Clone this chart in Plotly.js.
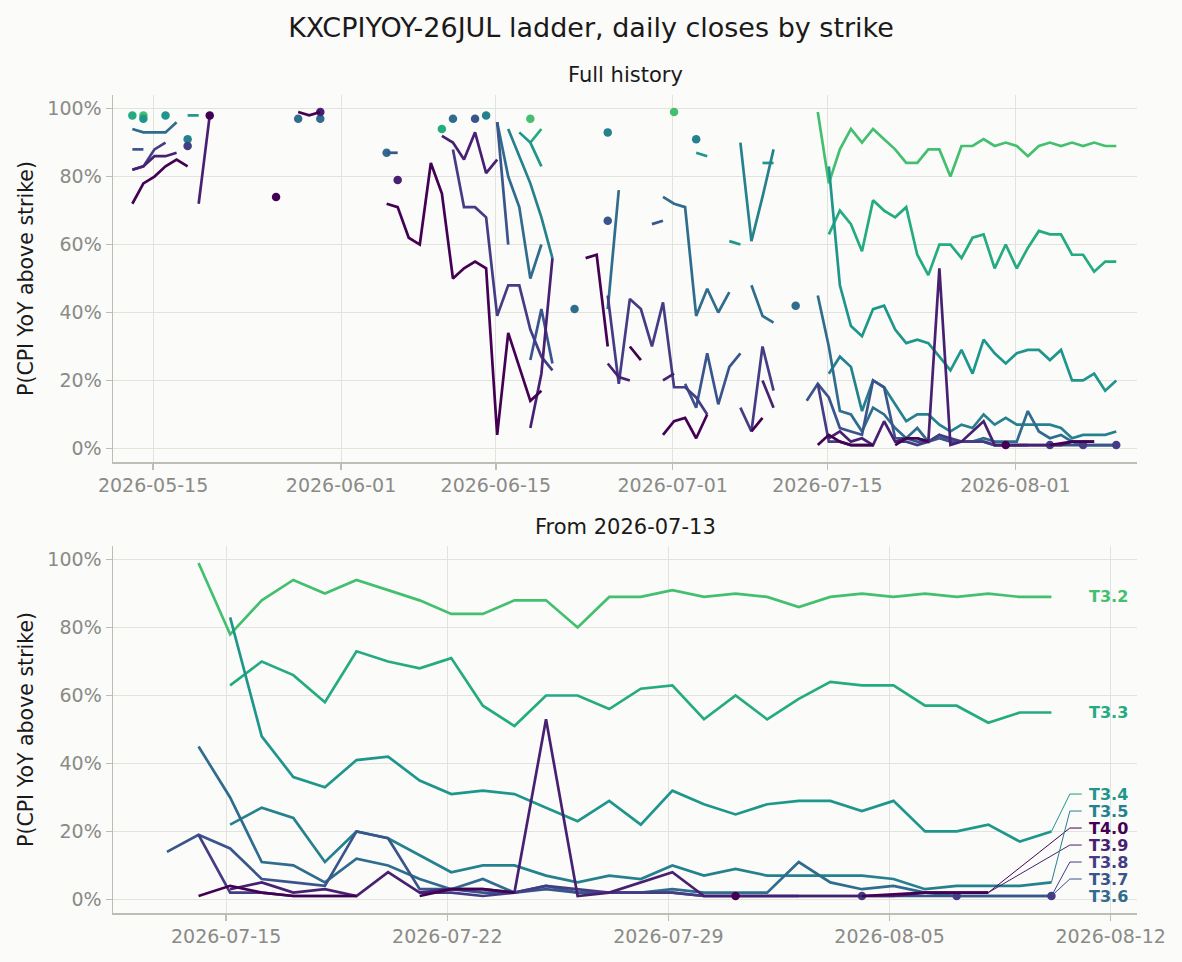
<html>
<head>
<script src="https://cdn.plot.ly/plotly-3.0.1.min.js"></script>
</head>
<body style="margin:0;background:#fbfbf9">
<div id="chart" style="width:1182px;height:962px"></div>
<script>
// daily closes per strike, 2026-05-13 .. 2026-08-10 (null = no close that day)
const _ = null;
const firstDay = [2026, 4, 13];
const nDays = 90;

const strikes = ['T3.2', 'T3.3', 'T3.4', 'T3.5', 'T3.6', 'T3.7', 'T3.8', 'T3.9', 'T4.0'];
const colors = ['#44bf70', '#25ab82', '#1f968b', '#26818e', '#2f6c8e', '#39558c', '#443c84', '#482071', '#440154'];

const t32 = [
  _,98,_,_,_,_,_,_,_,_,
  _,_,_,_,_,_,_,_,_,_,
  _,_,_,_,_,_,_,_,_,_,
  _,_,_,_,_,_,97,_,_,_,
  _,_,_,_,_,_,_,_,_,99,
  _,_,_,_,_,_,_,_,_,_,
  _,_,99,78,88,94,90,94,91,88,
  84,84,88,88,80,89,89,91,89,90,
  89,86,89,90,89,90,89,90,89,89];
const t33 = [
  98,_,_,_,_,_,_,_,_,_,
  _,_,_,_,_,_,_,_,_,_,
  _,_,_,_,_,_,_,_,94,_,
  _,_,_,_,_,_,90,94,_,_,
  _,_,_,_,_,_,_,_,_,_,
  _,_,_,_,_,_,_,_,_,_,
  _,_,_,63,70,66,58,73,70,68,
  71,57,51,60,60,56,62,63,53,60,
  53,59,64,63,63,57,57,52,55,55];
const t34 = [
  _,97,_,98,_,98,98,_,_,_,
  _,_,_,_,_,_,_,_,_,_,
  _,_,_,_,_,_,_,_,_,_,
  _,_,_,_,_,93,90,83,_,_,
  _,_,_,_,_,_,_,_,_,_,
  _,87,86,_,61,60,_,84,84,_,
  _,_,_,83,48,36,33,41,42,35,
  31,32,31,27,23,29,22,32,28,25,
  28,29,29,26,29,20,20,22,17,20];
const t35 = [
  _,_,_,_,_,91,_,_,_,_,
  _,_,_,_,_,_,_,_,_,_,
  _,_,_,_,_,_,_,_,_,_,
  _,_,98,_,94,86,78,68,56,_,
  _,_,_,93,_,_,_,_,_,_,
  _,91,_,_,_,90,61,74,88,_,
  _,_,_,22,27,24,11,20,18,13,
  8,10,10,7,5,7,6,10,7,9,
  7,7,7,7,6,3,4,4,4,5];
const t36 = [
  94,93,93,93,96,_,_,_,_,_,
  _,_,_,_,_,97,_,97,_,_,
  _,_,_,87,_,_,_,_,_,97,
  _,_,_,96,80,71,50,60,_,_,
  41,_,_,41,76,_,_,_,74,72,
  71,39,47,40,46,_,48,39,37,_,
  42,_,45,30,11,10,5,12,10,6,
  3,6,2,4,2,2,2,3,2,2,
  2,11,5,3,4,2,1,1,1,1];
const t37 = [
  88,88,_,_,_,_,_,_,_,_,
  _,_,_,_,_,_,_,_,_,_,
  _,_,_,87,87,_,_,_,_,_,
  _,97,_,96,60,_,26,41,25,_,
  _,_,_,67,_,_,_,66,67,_,
  19,12,28,13,24,28,_,_,_,_,
  _,14,19,15,6,5,4,20,18,3,
  3,2,2,3,2,2,2,2,1,1,
  1,1,1,1,1,1,1,1,1,1];
const t38 = [
  82,83,88,90,_,89,_,_,_,_,
  _,_,_,_,_,_,_,_,_,_,
  _,_,_,_,_,_,_,_,_,88,
  71,71,68,39,48,48,35,27,23,_,
  _,_,_,45,19,44,41,30,43,18,
  18,15,10,_,_,12,5,30,17,_,
  _,_,19,2,2,1,1,1,_,2,
  2,1,2,4,3,2,2,2,1,1,
  1,1,_,1,_,_,1,_,_,1];
const t39 = [
  82,83,86,86,87,_,72,98,_,_,
  _,_,_,_,_,_,_,99,_,_,
  _,_,_,_,79,_,_,_,92,90,
  85,93,81,85,_,_,6,22,56,_,
  _,_,_,25,21,20,_,_,20,22,
  _,_,_,_,_,_,_,20,12,_,
  _,_,_,3,5,2,3,1,8,2,
  3,3,2,53,1,2,5,8,1,1,
  1,1,1,1,1,2,2,2,_,_];
const t40 = [
  72,78,80,83,85,83,_,98,_,_,
  _,_,_,74,_,99,98,99,_,_,
  _,_,_,72,71,62,60,84,75,50,
  53,55,53,4,34,24,14,17,_,_,
  _,56,57,30,_,30,26,_,4,8,
  9,3,10,_,_,_,5,9,_,_,
  _,_,1,4,2,1,1,1,_,1,
  3,3,2,_,_,_,_,_,_,1,
  _,_,_,1,1.5,2,2,2,_,_];

const series = [t32, t33, t34, t35, t36, t37, t38, t39, t40];
const zoomStart = 61;   // 2026-07-13

const topTicks = ['2026-05-15', '2026-06-01', '2026-06-15', '2026-07-01', '2026-07-15', '2026-08-01'];
const bottomTicks = ['2026-07-15', '2026-07-22', '2026-07-29', '2026-08-05', '2026-08-12'];
const pctTicks = [0, 20, 40, 60, 80, 100];
const pctText = pctTicks.map(v => v + '%');

const dates = [];
for (let i = 0; i < nDays; i++) {
  let d = new Date(Date.UTC(firstDay[0], firstDay[1], firstDay[2] + i));
  dates.push(d.toISOString().slice(0, 10) + ' 03:00');
}

// points with no neighbour on either side get a dot, like the reference
const dotSizes = (vals) => vals.map((v, i) =>
  (v !== null && (i === 0 || vals[i-1] === null) && (i === vals.length - 1 || vals[i+1] === null)) ? 8.5 : 0);

const font = 'DejaVu Sans';
let traces = [];

series.forEach((vals, k) => {
  traces.push({
    x: dates, y: vals, xaxis: 'x', yaxis: 'y',
    type: 'scatter', mode: 'lines+markers', connectgaps: false,
    line: {color: colors[k], width: 2.7},
    marker: {color: colors[k], size: dotSizes(vals), opacity: 1, line: {width: 0}},
    name: strikes[k], showlegend: false, hoverinfo: 'skip'
  });
  let sub = vals.slice(zoomStart);
  traces.push({
    x: dates.slice(zoomStart), y: sub, xaxis: 'x2', yaxis: 'y2',
    type: 'scatter', mode: 'lines+markers', connectgaps: false,
    line: {color: colors[k], width: 2.7},
    marker: {color: colors[k], size: dotSizes(sub), opacity: 1, line: {width: 0}},
    name: strikes[k], showlegend: false, hoverinfo: 'skip'
  });
});

// end labels, pushed apart so they do not overlap
let ends = series.map((vals, k) => {
  let i = vals.length - 1;
  while (vals[i] === null) i--;
  return {k: k, date: dates[i], v: vals[i], strike: parseFloat(strikes[k].slice(1))};
});
ends.sort((a, b) => (a.v - b.v) || (a.strike - b.strike));
let prev = -Infinity;
ends.forEach(e => { e.pos = Math.max(e.v, prev + 5); prev = e.pos; });

let annotations = [];
ends.forEach(e => {
  annotations.push({
    xref: 'x2', yref: 'y2', x: '2026-08-11 06:00', y: e.pos,
    text: '<b>' + strikes[e.k] + '</b>', showarrow: false,
    xanchor: 'left', yanchor: 'middle',
    font: {family: font, size: 16, color: colors[e.k]}
  });
  if (e.pos - e.v > 1) {
    traces.push({
      x: [e.date, '2026-08-10 17:00', '2026-08-11 02:00'], y: [e.v, e.pos, e.pos],
      xaxis: 'x2', yaxis: 'y2', type: 'scatter', mode: 'lines',
      line: {color: colors[e.k], width: 1}, showlegend: false, hoverinfo: 'skip'
    });
  }
});

annotations.push({xref: 'paper', yref: 'paper', x: 0.5, y: 1.0244, text: 'Full history',
  showarrow: false, yanchor: 'middle', font: {family: font, size: 21, color: '#1a1a1a'}});
annotations.push({xref: 'paper', yref: 'paper', x: 0.5, y: 0.4719, text: 'From 2026-07-13',
  showarrow: false, yanchor: 'middle', font: {family: font, size: 21, color: '#1a1a1a'}});

const axisBase = {
  showline: true, linecolor: '#bdbdb5', linewidth: 1.5,
  ticks: 'outside', ticklen: 6, tickcolor: '#bdbdb5', tickwidth: 1.5,
  showgrid: true, gridcolor: '#e3e3dd', gridwidth: 1, zeroline: false,
  tickfont: {family: font, size: 19, color: '#8a8a86'}
};
const yTitle = {text: 'P(CPI YoY above strike)', font: {family: font, size: 20.5, color: '#1a1a1a'}, standoff: 8};

let layout = {
  width: 1182, height: 962,
  paper_bgcolor: '#fbfbf9', plot_bgcolor: '#fbfbf9',
  margin: {l: 113, r: 45, t: 95, b: 49},
  title: {text: 'KXCPIYOY-26JUL ladder, daily closes by strike', x: 0.5, xref: 'container',
    y: 1 - 28/962, yanchor: 'middle', font: {family: font, size: 27, color: '#1a1a1a'}},
  xaxis: Object.assign({}, axisBase, {anchor: 'y', type: 'date',
    range: ['2026-05-11 09:00', '2026-08-12 00:00'], tickvals: topTicks, tickformat: '%Y-%m-%d'}),
  yaxis: Object.assign({}, axisBase, {anchor: 'x', domain: [0.5513, 1], range: [-4, 104],
    tickvals: pctTicks, ticktext: pctText, title: yTitle}),
  xaxis2: Object.assign({}, axisBase, {anchor: 'y2', type: 'date',
    range: ['2026-07-11 10:00', '2026-08-12 20:00'], tickvals: bottomTicks, tickformat: '%Y-%m-%d'}),
  yaxis2: Object.assign({}, axisBase, {anchor: 'x2', domain: [0, 0.4487], range: [-4, 104],
    tickvals: pctTicks, ticktext: pctText, title: yTitle}),
  annotations: annotations,
  showlegend: false
};

Plotly.newPlot('chart', traces, layout, {staticPlot: true});
</script>
</body>
</html>
